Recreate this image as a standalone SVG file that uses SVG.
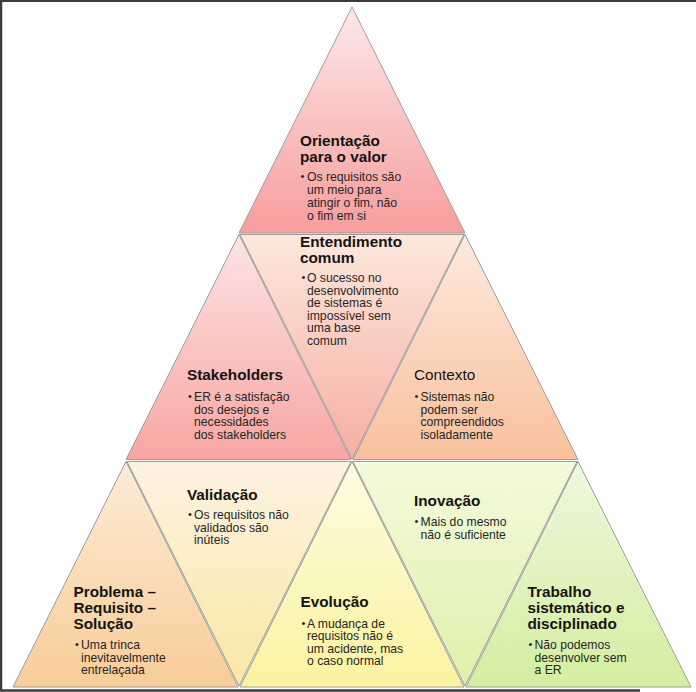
<svg xmlns="http://www.w3.org/2000/svg" width="696" height="692" viewBox="0 0 696 692">
  <style>
    .tri { stroke: #9c9c9c; stroke-width: 1; }
    .ttl { font-family: "Liberation Sans", Arial, sans-serif; font-size: 15.3px; font-weight: bold; fill: #141414; }
    .ttl-r { font-family: "Liberation Sans", Arial, sans-serif; font-size: 15.3px; fill: #141414; }
    .body { font-family: "Liberation Sans", Arial, sans-serif; font-size: 12.2px; fill: #262626; }
    .dot { font-family: "Liberation Sans", Arial, sans-serif; font-size: 11px; fill: #262626; }
  </style>
  <defs>
    <linearGradient id="g-orient" x1="0" y1="0" x2="0" y2="1">
      <stop offset="0" stop-color="#fde8e8"/><stop offset="1" stop-color="#f79d9d"/>
    </linearGradient>
    <linearGradient id="g-entend" x1="0" y1="0" x2="0" y2="1">
      <stop offset="0" stop-color="#fde8dc"/><stop offset="1" stop-color="#f6aea4"/>
    </linearGradient>
    <linearGradient id="g-stake" x1="0" y1="0" x2="0" y2="1">
      <stop offset="0" stop-color="#fde4e4"/><stop offset="1" stop-color="#f7a6a2"/>
    </linearGradient>
    <linearGradient id="g-contx" x1="0" y1="0" x2="0" y2="1">
      <stop offset="0" stop-color="#fdeadf"/><stop offset="1" stop-color="#f9c09c"/>
    </linearGradient>
    <linearGradient id="g-probl" x1="0" y1="0" x2="0" y2="1">
      <stop offset="0" stop-color="#fdebd6"/><stop offset="1" stop-color="#f8cd98"/>
    </linearGradient>
    <linearGradient id="g-valid" x1="0" y1="0" x2="0" y2="1">
      <stop offset="0" stop-color="#fdf2e2"/><stop offset="1" stop-color="#fae8a2"/>
    </linearGradient>
    <linearGradient id="g-evol" x1="0" y1="0" x2="0" y2="1">
      <stop offset="0" stop-color="#fefbe2"/><stop offset="1" stop-color="#faf3a0"/>
    </linearGradient>
    <linearGradient id="g-inov" x1="0" y1="0" x2="0" y2="1">
      <stop offset="0" stop-color="#f4fadc"/><stop offset="1" stop-color="#dff0aa"/>
    </linearGradient>
    <linearGradient id="g-trab" x1="0" y1="0" x2="0" y2="1">
      <stop offset="0" stop-color="#eef8de"/><stop offset="1" stop-color="#d3eea0"/>
    </linearGradient>
  </defs>

  <rect x="0" y="0" width="696" height="692" fill="#ffffff"/>

  <!-- outer frame: top, left and bottom edges -->
  <path d="M696 0.75 H1 V690.5 H640" fill="none" stroke="#3c3c3c" stroke-width="2.5"/>

  <!-- upper row -->
  <g id="orientacao">
    <polygon class="tri" points="352,7 465,233 239,233" fill="url(#g-orient)"/>
    <text class="ttl" x="300" y="146">Orientação</text>
    <text class="ttl" x="300" y="162">para o valor</text>
    <text class="dot" x="300.5" y="180">•</text>
    <text class="body" x="307" y="181">Os requisitos são</text>
    <text class="body" x="307" y="194">um meio para</text>
    <text class="body" x="307" y="207">atingir o fim, não</text>
    <text class="body" x="307" y="220">o fim em si</text>
  </g>

  <!-- middle row -->
  <g id="entendimento">
    <polygon class="tri" points="240,234.5 464,234.5 352,459" fill="url(#g-entend)"/>
    <text class="ttl" x="300" y="246.5">Entendimento</text>
    <text class="ttl" x="300" y="262.5">comum</text>
    <text class="dot" x="301.5" y="281">•</text>
    <text class="body" x="307" y="282">O sucesso no</text>
    <text class="body" x="307" y="294.5">desenvolvimento</text>
    <text class="body" x="307" y="307">de sistemas é</text>
    <text class="body" x="307" y="319.5">impossível sem</text>
    <text class="body" x="307" y="332">uma base</text>
    <text class="body" x="307" y="344.5">comum</text>
  </g>

  <g id="stakeholders">
    <polygon class="tri" points="239,234.5 351,459.5 126,459.5" fill="url(#g-stake)"/>
    <text class="ttl" x="187" y="380">Stakeholders</text>
    <text class="dot" x="188" y="400">•</text>
    <text class="body" x="194" y="401">ER é a satisfação</text>
    <text class="body" x="194" y="413.5">dos desejos e</text>
    <text class="body" x="194" y="426">necessidades</text>
    <text class="body" x="194" y="438.5">dos stakeholders</text>
  </g>

  <g id="contexto">
    <polygon class="tri" points="465,234.5 578,459.5 353,459.5" fill="url(#g-contx)"/>
    <text class="ttl-r" x="414" y="380">Contexto</text>
    <text class="dot" x="414.5" y="400">•</text>
    <text class="body" x="420.5" y="401">Sistemas não</text>
    <text class="body" x="420.5" y="413.5">podem ser</text>
    <text class="body" x="420.5" y="426">compreendidos</text>
    <text class="body" x="420.5" y="438.5">isoladamente</text>
  </g>

  <!-- lower row -->
  <g id="validacao">
    <polygon class="tri" points="127,461.5 351,461.5 239,686" fill="url(#g-valid)"/>
    <text class="ttl" x="187" y="500">Validação</text>
    <text class="dot" x="188" y="518">•</text>
    <text class="body" x="194" y="519">Os requisitos não</text>
    <text class="body" x="194" y="531.5">validados são</text>
    <text class="body" x="194" y="544">inúteis</text>
  </g>

  <g id="inovacao">
    <polygon class="tri" points="353,461.5 577,461.5 465,686" fill="url(#g-inov)"/>
    <text class="ttl" x="414" y="506">Inovação</text>
    <text class="dot" x="414.5" y="525">•</text>
    <text class="body" x="420.5" y="526">Mais do mesmo</text>
    <text class="body" x="420.5" y="538.5">não é suficiente</text>
  </g>

  <g id="problema">
    <polygon class="tri" points="126,461.5 238,687 13,687" fill="url(#g-probl)"/>
    <text class="ttl" x="73.5" y="597">Problema –</text>
    <text class="ttl" x="73.5" y="613">Requisito –</text>
    <text class="ttl" x="73.5" y="629">Solução</text>
    <text class="dot" x="75" y="648">•</text>
    <text class="body" x="81" y="649">Uma trinca</text>
    <text class="body" x="81" y="661.5">inevitavelmente</text>
    <text class="body" x="81" y="674">entrelaçada</text>
  </g>

  <g id="evolucao">
    <polygon class="tri" points="352,461.5 464,687 240,687" fill="url(#g-evol)"/>
    <text class="ttl" x="300.5" y="607">Evolução</text>
    <text class="dot" x="301.5" y="626.5">•</text>
    <text class="body" x="307" y="627.5">A mudança de</text>
    <text class="body" x="307" y="640">requisitos não é</text>
    <text class="body" x="307" y="652.5">um acidente, mas</text>
    <text class="body" x="307" y="665">o caso normal</text>
  </g>

  <g id="trabalho">
    <polygon class="tri" points="578,461.5 691,687 466,687" fill="url(#g-trab)"/>
    <text class="ttl" x="527.5" y="597">Trabalho</text>
    <text class="ttl" x="527.5" y="613">sistemático e</text>
    <text class="ttl" x="527.5" y="629">disciplinado</text>
    <text class="dot" x="528.5" y="648">•</text>
    <text class="body" x="534.5" y="649">Não podemos</text>
    <text class="body" x="534.5" y="661.5">desenvolver sem</text>
    <text class="body" x="534.5" y="674">a ER</text>
  </g>

  <!-- no connectors in this figure -->
  <g id="connectors"/>
</svg>
